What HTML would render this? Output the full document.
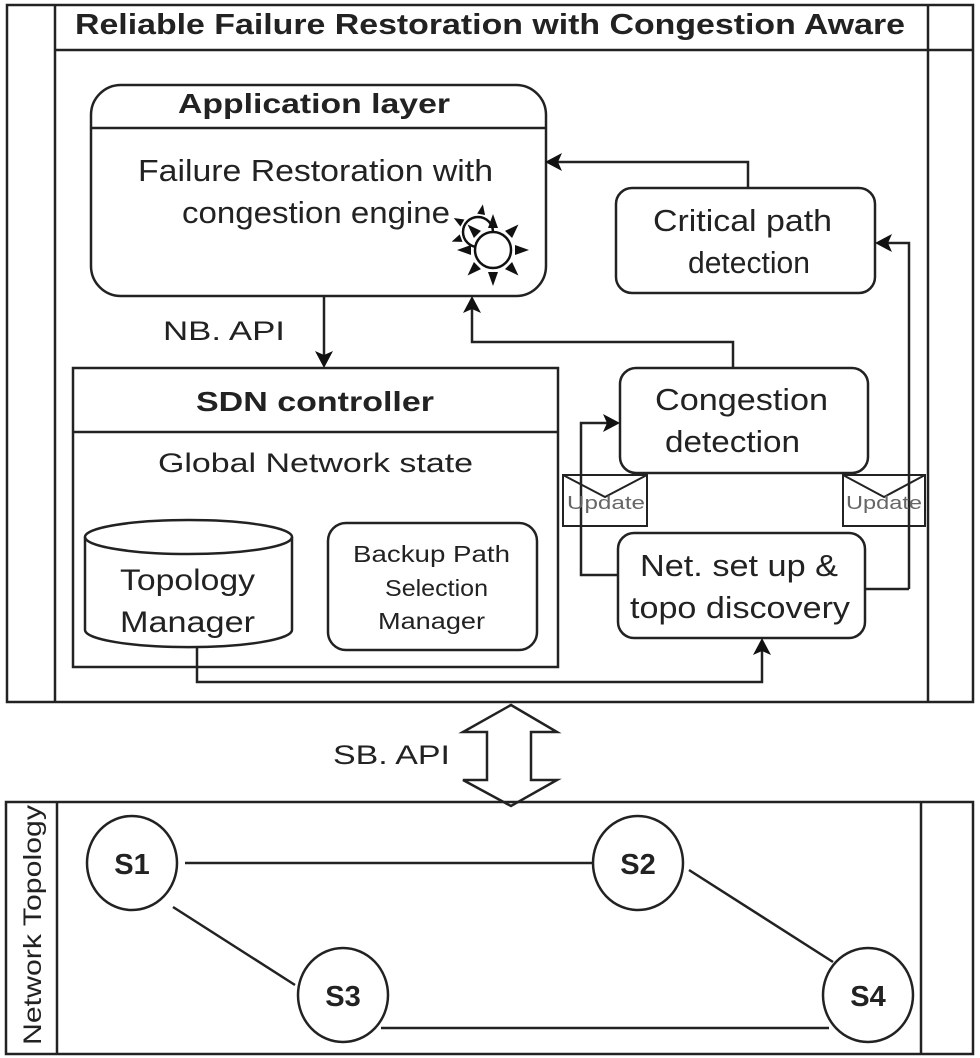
<!DOCTYPE html>
<html><head><meta charset="utf-8"><style>
html,body{margin:0;padding:0;background:#fff;}
svg{display:block;}
text{font-family:"Liberation Sans",Arial,sans-serif;fill:#222;}
</style></head><body>
<svg width="980" height="1058" viewBox="0 0 980 1058" xmlns="http://www.w3.org/2000/svg">
<g fill="none" stroke="#222" stroke-width="2.5">
<rect x="7" y="5" width="966" height="697"/>
<line x1="55" y1="5" x2="55" y2="702"/>
<line x1="928" y1="5" x2="928" y2="702"/>
<line x1="55" y1="50" x2="973" y2="50"/>
<rect x="91" y="85" width="455" height="211" rx="30"/>
<line x1="91" y1="128" x2="546" y2="128"/>
<rect x="616" y="188" width="259" height="105" rx="16"/>
<rect x="73" y="368" width="485" height="299"/>
<line x1="73" y1="432" x2="558" y2="432"/>
<path d="M85,537 L85,630 A103,17 0 0 0 292,630 L292,537"/>
<ellipse cx="188.5" cy="537" rx="103.5" ry="17"/>
<rect x="328" y="523" width="209" height="127" rx="18"/>
<rect x="620" y="368" width="248" height="105" rx="16"/>
<rect x="618" y="533" width="247" height="105" rx="16"/>
<rect x="563" y="475" width="84" height="51" stroke-width="2"/>
<path d="M563,475 L605,497 L647,475" stroke-width="2"/>
<rect x="843" y="475" width="82" height="51" stroke-width="2"/>
<path d="M843,475 L884,497 L925,475" stroke-width="2"/>
<path d="M748,188 L748,162 L552,162"/>
<path d="M909,589 L909,243 L882,243" />
<path d="M865,589 L909,589"/>
<path d="M324,296 L324,360"/>
<path d="M733,368 L733,342 L472,342 L472,303"/>
<path d="M618,575 L581,575 L581,423 L612,423"/>
<path d="M197,647 L197,682 L762,682 L762,645"/>
<rect x="6" y="802" width="967" height="252"/>
<line x1="57" y1="802" x2="57" y2="1054"/>
<line x1="921" y1="802" x2="921" y2="1054"/>
<path d="M511,705 L557,732 L531,732 L531,780 L557,780 L511,806 L463,780 L487,780 L487,732 L463,732 Z" stroke-width="2.5"/>
<line x1="185" y1="863" x2="593" y2="863"/>
<line x1="173" y1="907" x2="295" y2="985"/>
<line x1="689" y1="870" x2="833" y2="962"/>
<line x1="381" y1="1028" x2="829" y2="1028"/>
<ellipse cx="132" cy="863" rx="45" ry="47" fill="#fff"/>
<ellipse cx="638" cy="863" rx="45" ry="47" fill="#fff"/>
<ellipse cx="343" cy="995" rx="45" ry="47" fill="#fff"/>
<ellipse cx="868" cy="995" rx="45" ry="47" fill="#fff"/>
</g>
<g fill="#111">
<path d="M545,162 L562,153 L558,162 L562,171 Z"/>
<path d="M875,243 L892,234 L888,243 L892,252 Z"/>
<path d="M324,368 L315,351 L324,355 L333,351 Z"/>
<path d="M472,296 L463,313 L472,309 L481,313 Z"/>
<path d="M620,423 L603,414 L607,423 L603,432 Z"/>
<path d="M762,638 L753,655 L762,651 L771,655 Z"/>
</g>
<!-- gear -->
<g fill="none" stroke="#111" stroke-width="2.5">
<circle cx="478" cy="232" r="15"/>
<circle cx="493" cy="250" r="18" fill="#fff"/>
</g>
<g fill="#111">
<path d="M488,228 l5,-14 l5,14z" transform="rotate(0 493 250)"/>
<path d="M488,228 l5,-14 l5,14z" transform="rotate(45 493 250)"/>
<path d="M488,228 l5,-14 l5,14z" transform="rotate(90 493 250)"/>
<path d="M488,228 l5,-14 l5,14z" transform="rotate(135 493 250)"/>
<path d="M488,228 l5,-14 l5,14z" transform="rotate(180 493 250)"/>
<path d="M488,228 l5,-14 l5,14z" transform="rotate(225 493 250)"/>
<path d="M488,228 l5,-14 l5,14z" transform="rotate(270 493 250)"/>
<path d="M488,228 l5,-14 l5,14z" transform="rotate(315 493 250)"/>
<path d="M474,214 l4,-10 l4,10z" transform="rotate(-60 478 232)"/>
<path d="M474,214 l4,-10 l4,10z" transform="rotate(-110 478 232)"/>
<path d="M474,214 l4,-10 l4,10z" transform="rotate(10 478 232)"/>
</g>
<text x="490" y="34" font-size="29" font-weight="bold" text-anchor="middle" textLength="830" lengthAdjust="spacingAndGlyphs">Reliable Failure Restoration with Congestion Aware</text>
<text x="178" y="113" font-size="28" font-weight="bold" textLength="272" lengthAdjust="spacingAndGlyphs">Application layer</text>
<text x="138" y="181" font-size="31" textLength="355" lengthAdjust="spacingAndGlyphs">Failure Restoration with</text>
<text x="182" y="223" font-size="31" textLength="268" lengthAdjust="spacingAndGlyphs">congestion engine</text>
<text x="653" y="231" font-size="31" textLength="179" lengthAdjust="spacingAndGlyphs">Critical path</text>
<text x="688" y="273" font-size="31" textLength="122" lengthAdjust="spacingAndGlyphs">detection</text>
<text x="163" y="340" font-size="27" textLength="122" lengthAdjust="spacingAndGlyphs">NB. API</text>
<text x="196" y="411" font-size="28" font-weight="bold" textLength="238" lengthAdjust="spacingAndGlyphs">SDN controller</text>
<text x="158" y="472" font-size="27" textLength="315" lengthAdjust="spacingAndGlyphs">Global Network state</text>
<text x="120" y="590" font-size="30" textLength="135" lengthAdjust="spacingAndGlyphs">Topology</text>
<text x="120" y="632" font-size="30" textLength="135" lengthAdjust="spacingAndGlyphs">Manager</text>
<text x="353" y="562" font-size="23" textLength="157" lengthAdjust="spacingAndGlyphs">Backup Path</text>
<text x="385" y="596" font-size="23" textLength="103" lengthAdjust="spacingAndGlyphs">Selection</text>
<text x="378" y="629" font-size="23" textLength="107" lengthAdjust="spacingAndGlyphs">Manager</text>
<text x="655" y="410" font-size="31" textLength="173" lengthAdjust="spacingAndGlyphs">Congestion</text>
<text x="665" y="452" font-size="31" textLength="135" lengthAdjust="spacingAndGlyphs">detection</text>
<text x="640" y="576" font-size="31" textLength="198" lengthAdjust="spacingAndGlyphs">Net. set up &amp;</text>
<text x="630" y="618" font-size="31" textLength="220" lengthAdjust="spacingAndGlyphs">topo discovery</text>
<text x="567" y="509" font-size="18" textLength="78" lengthAdjust="spacingAndGlyphs" style="fill:#666">Update</text>
<text x="846" y="509" font-size="18" textLength="76" lengthAdjust="spacingAndGlyphs" style="fill:#666">Update</text>
<text x="333" y="764" font-size="27" textLength="117" lengthAdjust="spacingAndGlyphs">SB. API</text>
<text x="0" y="0" font-size="25" text-anchor="middle" textLength="240" lengthAdjust="spacingAndGlyphs" transform="translate(41,925) rotate(-90)">Network Topology</text>
<text x="132" y="874" font-size="29" font-weight="bold" text-anchor="middle">S1</text>
<text x="638" y="874" font-size="29" font-weight="bold" text-anchor="middle">S2</text>
<text x="343" y="1006" font-size="29" font-weight="bold" text-anchor="middle">S3</text>
<text x="868" y="1006" font-size="29" font-weight="bold" text-anchor="middle">S4</text>
</svg>
</body></html>
